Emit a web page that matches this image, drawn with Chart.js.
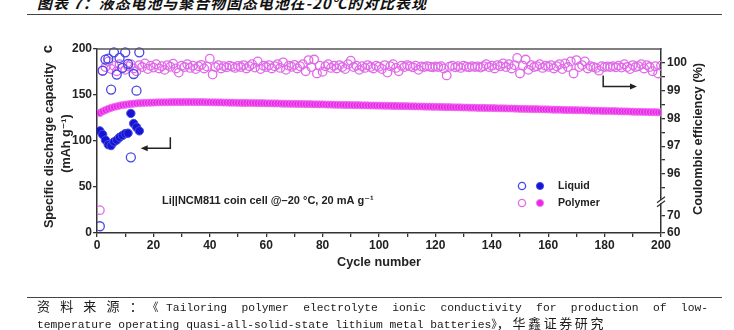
<!DOCTYPE html>
<html><head><meta charset="utf-8">
<script src="https://cdn.jsdelivr.net/npm/chart.js@4/dist/chart.umd.min.js"></script>
<style>
html,body{margin:0;padding:0;background:#fff;width:734px;height:330px;overflow:hidden;position:relative}
#title{position:absolute;left:37px;top:-6px;font:italic 700 15px "Noto Sans CJK SC",sans-serif;line-height:18px;letter-spacing:0.9px;color:#111;white-space:nowrap}
.rule{position:absolute;left:27px;width:695px;height:0;border-top:1.3px solid #444}
.foot{position:absolute;left:37px;font:11.3px "Liberation Mono","Noto Sans CJK SC",monospace;line-height:17px;color:#1a1a1a;white-space:nowrap}
.cjk{font:13px "Noto Sans CJK SC",sans-serif;letter-spacing:2.6px;line-height:14px}
#f1{top:299px;width:671px;text-align:justify;text-align-last:justify;white-space:normal}
#f2{top:316px}
canvas{position:absolute;left:0;top:0}
</style></head>
<body>
<div id="title">图表 7：液态电池与聚合物固态电池在-20℃的对比表现</div>
<div class="rule" style="top:14px"></div>
<canvas id="c" width="734" height="330"></canvas>
<div class="rule" style="top:297px;border-top-width:1px"></div>
<div class="foot" id="f1"><span class="cjk">资料来源：</span>《Tailoring polymer electrolyte ionic conductivity for production of low-</div>
<div class="foot" id="f2">temperature operating quasi-all-solid-state lithium metal batteries》<span class="cjk">，华鑫证券研究</span></div>
<script>
// ---------------- data ----------------
const xTicks = [0, 20, 40, 60, 80, 100, 120, 140, 160, 180, 200];
const leftTicks = [0, 50, 100, 150, 200];
const rightTickLabels = [60, 70, 96, 97, 98, 99, 100];
const rightMinorTicks = [95.5, 96.5, 97.5, 98.5, 99.5];

// Liquid electrolyte, cycles 1..15
const liquidCapacity = [111, 107, 101, 96, 95, 99, 101, 104, 106, 108, 108.5, 130, 119, 115, 111];
const liquidCE = [64, 99.72, 100.12, 100.15, 99.04, 100.38, 99.58, 100.18, 99.82, 100.38, 99.96, 96.6, 99.6, 99.0, 100.38];

// Polymer electrolyte, cycles 1..200
const polymerCapacity = [
130.5,132.2,133.6,134.9,136.0,136.9,137.7,138.4,139.0,139.5,
139.9,140.3,140.6,140.9,141.1,141.3,141.5,141.6,141.7,141.8,
141.9,142.0,142.0,142.1,142.1,142.2,142.2,142.3,142.3,142.3,
142.4,142.3,142.4,142.3,142.3,142.2,142.3,142.2,142.1,142.1,
142.0,142.0,141.9,141.9,141.8,141.8,141.7,141.7,141.6,141.5,
141.5,141.4,141.4,141.3,141.3,141.2,141.2,141.1,141.1,141.0,
140.9,140.9,140.8,140.8,140.7,140.6,140.6,140.5,140.4,140.4,
140.3,140.3,140.2,140.1,140.1,140.0,139.9,139.9,139.8,139.8,
139.7,139.6,139.6,139.5,139.4,139.4,139.3,139.2,139.2,139.1,
139.0,139.0,138.9,138.8,138.8,138.7,138.6,138.6,138.5,138.5,
138.4,138.3,138.3,138.2,138.1,138.1,138.0,137.9,137.9,137.8,
137.7,137.7,137.6,137.5,137.5,137.4,137.3,137.3,137.2,137.1,
137.1,137.0,136.9,136.8,136.8,136.7,136.6,136.6,136.5,136.4,
136.4,136.3,136.2,136.2,136.1,136.0,136.0,135.9,135.8,135.8,
135.7,135.6,135.5,135.5,135.4,135.3,135.3,135.2,135.1,135.0,
135.0,134.9,134.8,134.7,134.7,134.6,134.5,134.4,134.4,134.3,
134.2,134.1,134.1,134.0,133.9,133.8,133.7,133.7,133.6,133.5,
133.4,133.4,133.3,133.2,133.1,133.0,133.0,132.9,132.8,132.7,
132.6,132.6,132.5,132.4,132.3,132.2,132.1,132.1,132.0,131.9,
131.8,131.7,131.7,131.6,131.5,131.4,131.3,131.3,131.2,131.1];

const polymerCE = [
73.5,99.72,99.85,100.05,99.78,99.90,99.70,99.95,99.82,99.75,
99.88,99.95,99.80,99.70,99.92,99.85,99.98,99.78,99.90,99.83,
99.95,99.80,99.88,99.75,99.92,99.86,99.97,99.80,99.65,99.90,
99.85,99.95,99.82,99.90,99.78,99.88,99.93,99.80,99.87,100.15,
99.58,99.85,99.92,99.80,99.88,99.84,99.90,99.86,99.82,99.89,
99.85,99.92,99.80,99.88,99.95,99.83,100.05,99.78,99.90,99.85,
99.92,99.80,99.88,99.95,99.82,100.02,99.75,99.90,99.86,99.93,
99.80,99.88,99.95,99.70,100.10,99.85,100.12,99.62,99.90,99.68,
99.88,99.95,99.82,99.90,99.80,99.92,99.85,99.78,99.95,100.08,
99.85,99.90,99.75,99.88,99.82,99.92,99.85,99.80,99.90,99.86,
99.78,99.92,99.65,99.88,99.95,99.82,99.70,99.90,99.85,99.92,
99.88,99.84,99.90,99.75,99.87,99.85,99.88,99.86,99.84,99.87,
99.85,99.88,99.80,99.55,99.86,99.90,99.84,99.88,99.82,99.90,
99.86,99.84,99.88,99.85,99.87,99.83,99.88,99.95,99.85,99.90,
99.80,99.92,99.88,99.98,99.85,99.95,99.80,99.92,100.18,99.62,
99.90,100.12,99.75,99.92,99.85,99.88,99.95,99.82,99.90,99.86,
99.92,99.80,99.88,99.95,99.78,99.98,99.85,100.05,99.62,100.10,
99.85,99.92,100.05,99.80,99.88,99.85,99.82,99.72,99.88,99.85,
99.87,99.85,99.88,99.84,99.90,99.83,99.95,99.85,99.78,99.92,
99.85,99.88,99.95,99.80,99.92,99.85,99.70,99.88,99.62,99.90];

const seriesNames = ['Liquid', 'Polymer'];

// --------------- broken right axis ---------------
class BrokenScale extends Chart.LinearScale {
  determineDataLimits() {
    const o = this.options;
    this.min = o.lowMin; this.max = o.highMax;
  }
  buildTicks() {
    const o = this.options;
    return o.tickValues.map(v => ({value: v}));
  }
  getPixelForValue(v) {
    const o = this.options, h = this.bottom - this.top, s = o.split;
    if (v >= o.highMin) return this.top + (o.highMax - v) / (o.highMax - o.highMin) * s * h;
    const vv = Math.min(v, o.lowMax);
    return this.top + s * h + (o.lowMax - vv) / (o.lowMax - o.lowMin) * (1 - s) * h;
  }
  getValueForPixel(p) {
    const o = this.options, h = this.bottom - this.top, s = o.split;
    const f = (p - this.top) / h;
    if (f <= s) return o.highMax - f / s * (o.highMax - o.highMin);
    return o.lowMax - (f - s) / (1 - s) * (o.lowMax - o.lowMin);
  }
}
BrokenScale.id = 'broken';
BrokenScale.defaults = Chart.LinearScale.defaults;
Chart.register(BrokenScale);

const FONT = '"Liberation Sans","DejaVu Sans",Arial,sans-serif';
Chart.defaults.font.family = FONT;

const toXY = arr => arr.map((v, i) => ({x: i + 1, y: v}));

const C_BLUE_O = '#4646e4', C_BLUE_F = '#1414d2', C_BLUE_FB = '#4b4bea';
const C_MAG_O = '#e06ae8', C_MAG_F = '#e829e8', C_MAG_FB = '#f27cf2';

const deco = {
  id: 'deco',
  afterDraw(chart) {
    const {ctx, chartArea: a, scales} = chart;
    const x = scales.x, y = scales.y, y2 = scales.y2;
    ctx.save();
    // top frame line
    ctx.strokeStyle = '#555'; ctx.lineWidth = 1.5;
    ctx.beginPath(); ctx.moveTo(a.left - 0.5, a.top); ctx.lineTo(a.right + 0.5, a.top); ctx.stroke();

    // axis break marks on right axis
    const o = y2.options;
    const by = y2.top + o.split * (y2.bottom - y2.top);
    ctx.fillStyle = '#fff';
    ctx.fillRect(a.right - 3, by - 1.5, 6, 3);
    ctx.strokeStyle = '#333'; ctx.lineWidth = 1.3;
    ctx.beginPath();
    ctx.moveTo(a.right - 4, by + 1); ctx.lineTo(a.right + 4, by - 5);
    ctx.moveTo(a.right - 4, by + 5); ctx.lineTo(a.right + 4, by - 1);
    ctx.stroke();

    ctx.fillStyle = '#222';
    // panel letter
    ctx.save();
    ctx.translate(48, 49); ctx.rotate(-Math.PI / 2);
    ctx.font = 'bold 15px ' + FONT; ctx.textAlign = 'center'; ctx.textBaseline = 'middle';
    ctx.fillText('c', 0, 0);
    ctx.restore();

    // left axis title
    ctx.save();
    ctx.translate(50, 145.5); ctx.rotate(-Math.PI / 2);
    ctx.font = 'bold 12.6px ' + FONT; ctx.textAlign = 'center'; ctx.textBaseline = 'middle';
    ctx.fillText('Specific discharge capacity', 0, 0);
    ctx.fillText('(mAh g\u207B\u00B9)', 2, 17);
    ctx.restore();

    // right axis title
    ctx.save();
    ctx.translate(698, 139); ctx.rotate(-Math.PI / 2);
    ctx.font = 'bold 12.8px ' + FONT; ctx.textAlign = 'center'; ctx.textBaseline = 'middle';
    ctx.fillText('Coulombic efficiency (%)', 0, 0);
    ctx.restore();

    // x axis title
    ctx.font = 'bold 12.7px ' + FONT; ctx.textAlign = 'center'; ctx.textBaseline = 'middle';
    ctx.fillText('Cycle number', (a.left + a.right) / 2, 262);

    // condition text
    ctx.font = 'bold 11px ' + FONT; ctx.textAlign = 'left';
    ctx.fillText('Li||NCM811 coin cell @\u201320 \u00B0C, 20 mA g\u207B\u00B9', 162, 201);

    // legend
    const rows = [
      {name: seriesNames[0], o: C_BLUE_O, f: C_BLUE_F, fb: C_BLUE_FB, y: 186},
      {name: seriesNames[1], o: C_MAG_O, f: C_MAG_F, fb: C_MAG_FB, y: 203}
    ];
    ctx.font = 'bold 10.6px ' + FONT;
    rows.forEach(r => {
      ctx.lineWidth = 1.3; ctx.strokeStyle = r.o;
      ctx.beginPath(); ctx.arc(522, r.y, 3.6, 0, Math.PI * 2); ctx.stroke();
      ctx.fillStyle = r.f; ctx.strokeStyle = r.fb; ctx.lineWidth = 1;
      ctx.beginPath(); ctx.arc(540, r.y, 3.6, 0, Math.PI * 2); ctx.fill(); ctx.stroke();
      ctx.fillStyle = '#222';
      ctx.fillText(r.name, 558, r.y);
    });

    // arrows
    ctx.strokeStyle = '#222'; ctx.fillStyle = '#222'; ctx.lineWidth = 1.5;
    const ax1 = x.getPixelForValue(26), ay1 = y.getPixelForValue(104), ay2 = y.getPixelForValue(92);
    const ax2 = x.getPixelForValue(15.5);
    ctx.beginPath(); ctx.moveTo(ax1, ay1); ctx.lineTo(ax1, ay2); ctx.lineTo(ax2 + 5, ay2); ctx.stroke();
    ctx.beginPath(); ctx.moveTo(ax2, ay2); ctx.lineTo(ax2 + 7, ay2 - 3); ctx.lineTo(ax2 + 7, ay2 + 3); ctx.closePath(); ctx.fill();

    const bx1 = x.getPixelForValue(179.5), by1 = y2.getPixelForValue(99.55), by2 = y2.getPixelForValue(99.15);
    const bx2 = x.getPixelForValue(191.5);
    ctx.beginPath(); ctx.moveTo(bx1, by1); ctx.lineTo(bx1, by2); ctx.lineTo(bx2 - 5, by2); ctx.stroke();
    ctx.beginPath(); ctx.moveTo(bx2, by2); ctx.lineTo(bx2 - 7, by2 - 3); ctx.lineTo(bx2 - 7, by2 + 3); ctx.closePath(); ctx.fill();

    ctx.restore();
  }
};

const tickFont = {family: FONT, size: 12, weight: 'bold'};

new Chart(document.getElementById('c'), {
  type: 'scatter',
  data: {
    datasets: [
      {label: 'Liquid CE', data: toXY(liquidCE), yAxisID: 'y2', order: 0,
       pointRadius: 4.5, pointBorderWidth: 1.3, borderColor: C_BLUE_O, backgroundColor: 'rgba(0,0,0,0)'},
      {label: 'Liquid capacity', data: toXY(liquidCapacity), yAxisID: 'y', order: 0,
       pointRadius: 4.2, pointBorderWidth: 1, borderColor: C_BLUE_FB, backgroundColor: C_BLUE_F},
      {label: 'Polymer CE', data: toXY(polymerCE), yAxisID: 'y2', order: 1,
       pointRadius: 4.3, pointBorderWidth: 1.3, borderColor: C_MAG_O, backgroundColor: 'rgba(0,0,0,0)'},
      {label: 'Polymer capacity', data: toXY(polymerCapacity), yAxisID: 'y', order: 1,
       pointRadius: 3.6, pointBorderWidth: 0.8, borderColor: C_MAG_FB, backgroundColor: C_MAG_F}
    ]
  },
  options: {
    responsive: false, devicePixelRatio: 1, animation: false, events: [],
    layout: {padding: {top: 49, left: 0, right: 0, bottom: 0}},
    plugins: {legend: {display: false}, tooltip: {enabled: false}},
    scales: {
      x: {
        type: 'linear', position: 'bottom', min: 0, max: 200,
        afterBuildTicks: s => { s.ticks = xTicks.flatMap((v, i) => i < xTicks.length - 1 ? [{value: v}, {value: v + 10}] : [{value: v}]); },
        ticks: {font: tickFont, color: '#222', padding: 1, maxRotation: 0, autoSkip: false,
                callback: v => xTicks.includes(v) ? String(v) : ''},
        grid: {drawOnChartArea: false, tickLength: 4, color: '#333', lineWidth: 1.3},
        border: {color: '#333', width: 1.5},
        afterFit: s => { s.height = 97; }
      },
      y: {
        type: 'linear', position: 'left', min: 0, max: 200,
        afterBuildTicks: s => { s.ticks = leftTicks.map(v => ({value: v})); },
        ticks: {font: tickFont, color: '#222', padding: 1, autoSkip: false},
        grid: {drawOnChartArea: false, tickLength: 4, color: '#333', lineWidth: 1.3},
        border: {color: '#333', width: 1.5},
        afterFit: s => { s.width = 97; }
      },
      y2: {
        type: 'broken', position: 'right',
        lowMin: 60, lowMax: 78.5, highMin: 95, highMax: 100.5, split: 0.83,
        tickValues: [...rightTickLabels, ...rightMinorTicks].sort((a, b) => a - b),
        ticks: {font: tickFont, color: '#222', padding: 2, autoSkip: false,
                callback: v => rightTickLabels.includes(v) ? String(v) : ''},
        grid: {drawOnChartArea: false, tickLength: 4, color: '#333', lineWidth: 1.3},
        border: {color: '#333', width: 1.5},
        afterFit: s => { s.width = 73; }
      }
    }
  },
  plugins: [deco]
});
</script>
</body></html>
